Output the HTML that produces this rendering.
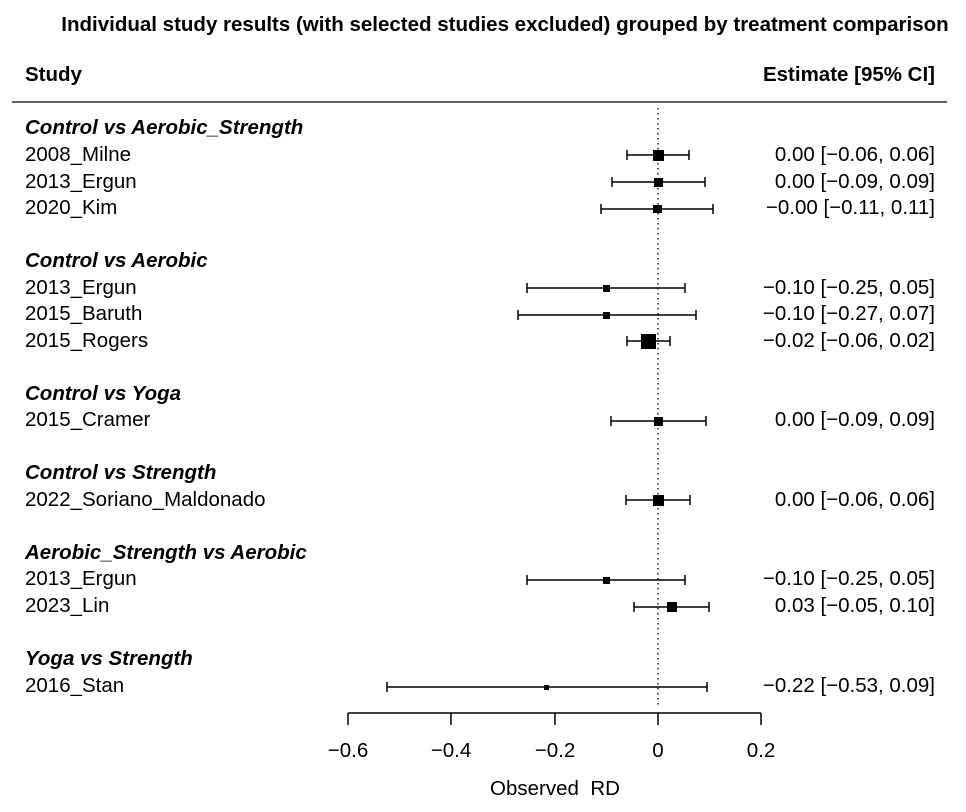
<!DOCTYPE html><html><head><style>body{margin:0;background:#fff}svg{display:block}text{font-family:"Liberation Sans",Arial,sans-serif;font-size:20.5px;fill:#000}</style></head><body>
<svg width="966" height="812" xmlns="http://www.w3.org/2000/svg">
<text x="505" y="31" text-anchor="middle" font-weight="bold">Individual study results (with selected studies excluded) grouped by treatment comparison</text>
<text x="25" y="81" font-weight="bold">Study</text>
<text x="935" y="81" text-anchor="end" font-weight="bold">Estimate [95% CI]</text>
<line x1="12" y1="102" x2="947" y2="102" stroke="#000" stroke-width="1.3"/>
<line x1="658" y1="108" x2="658" y2="708" stroke="#000" stroke-width="1.3" stroke-dasharray="1.5,3.5"/>
<g>
<text x="25" y="134" font-weight="bold" font-style="italic">Control vs Aerobic_Strength</text>
<text x="25" y="267" font-weight="bold" font-style="italic">Control vs Aerobic</text>
<text x="25" y="400" font-weight="bold" font-style="italic">Control vs Yoga</text>
<text x="25" y="479" font-weight="bold" font-style="italic">Control vs Strength</text>
<text x="25" y="559" font-weight="bold" font-style="italic">Aerobic_Strength vs Aerobic</text>
<text x="25" y="665" font-weight="bold" font-style="italic">Yoga vs Strength</text>
</g>
<g stroke="#000" stroke-width="1.5" fill="#000">
<line x1="627" y1="155" x2="689" y2="155"/><line x1="627" y1="150" x2="627" y2="160"/><line x1="689" y1="150" x2="689" y2="160"/><rect x="653" y="150" width="11" height="11" stroke="none"/>
<line x1="612" y1="182" x2="705" y2="182"/><line x1="612" y1="177" x2="612" y2="187"/><line x1="705" y1="177" x2="705" y2="187"/><rect x="654" y="178" width="9" height="9" stroke="none"/>
<line x1="601" y1="209" x2="713" y2="209"/><line x1="601" y1="204" x2="601" y2="214"/><line x1="713" y1="204" x2="713" y2="214"/><rect x="653" y="205" width="9" height="8" stroke="none"/>
<line x1="527" y1="288" x2="685" y2="288"/><line x1="527" y1="283" x2="527" y2="293"/><line x1="685" y1="283" x2="685" y2="293"/><rect x="603" y="285" width="7" height="7" stroke="none"/>
<line x1="518" y1="315" x2="696" y2="315"/><line x1="518" y1="310" x2="518" y2="320"/><line x1="696" y1="310" x2="696" y2="320"/><rect x="603" y="312" width="7" height="7" stroke="none"/>
<line x1="627" y1="341" x2="670" y2="341"/><line x1="627" y1="336" x2="627" y2="346"/><line x1="670" y1="336" x2="670" y2="346"/><rect x="641" y="334" width="15" height="15" stroke="none"/>
<line x1="611" y1="421" x2="706" y2="421"/><line x1="611" y1="416" x2="611" y2="426"/><line x1="706" y1="416" x2="706" y2="426"/><rect x="654" y="417" width="9" height="9" stroke="none"/>
<line x1="626" y1="500" x2="690" y2="500"/><line x1="626" y1="495" x2="626" y2="505"/><line x1="690" y1="495" x2="690" y2="505"/><rect x="653" y="495" width="11" height="11" stroke="none"/>
<line x1="527" y1="580" x2="685" y2="580"/><line x1="527" y1="575" x2="527" y2="585"/><line x1="685" y1="575" x2="685" y2="585"/><rect x="603" y="577" width="7" height="7" stroke="none"/>
<line x1="634" y1="607" x2="709" y2="607"/><line x1="634" y1="602" x2="634" y2="612"/><line x1="709" y1="602" x2="709" y2="612"/><rect x="667" y="602" width="10" height="10" stroke="none"/>
<line x1="387" y1="687" x2="707" y2="687"/><line x1="387" y1="682" x2="387" y2="692"/><line x1="707" y1="682" x2="707" y2="692"/><rect x="544" y="685" width="5" height="5" stroke="none"/>
<line x1="348" y1="713" x2="761" y2="713"/>
<line x1="348" y1="713" x2="348" y2="725"/><line x1="451" y1="713" x2="451" y2="725"/><line x1="555" y1="713" x2="555" y2="725"/><line x1="658" y1="713" x2="658" y2="725"/><line x1="761" y1="713" x2="761" y2="725"/>
</g>
<g>
<text x="25" y="161">2008_Milne</text><text x="935" y="161" text-anchor="end">0.00 [−0.06, 0.06]</text>
<text x="25" y="188">2013_Ergun</text><text x="935" y="188" text-anchor="end">0.00 [−0.09, 0.09]</text>
<text x="25" y="214">2020_Kim</text><text x="935" y="214" text-anchor="end">−0.00 [−0.11, 0.11]</text>
<text x="25" y="294">2013_Ergun</text><text x="935" y="294" text-anchor="end">−0.10 [−0.25, 0.05]</text>
<text x="25" y="320">2015_Baruth</text><text x="935" y="320" text-anchor="end">−0.10 [−0.27, 0.07]</text>
<text x="25" y="347">2015_Rogers</text><text x="935" y="347" text-anchor="end">−0.02 [−0.06, 0.02]</text>
<text x="25" y="426">2015_Cramer</text><text x="935" y="426" text-anchor="end">0.00 [−0.09, 0.09]</text>
<text x="25" y="506">2022_Soriano_Maldonado</text><text x="935" y="506" text-anchor="end">0.00 [−0.06, 0.06]</text>
<text x="25" y="585">2013_Ergun</text><text x="935" y="585" text-anchor="end">−0.10 [−0.25, 0.05]</text>
<text x="25" y="612">2023_Lin</text><text x="935" y="612" text-anchor="end">0.03 [−0.05, 0.10]</text>
<text x="25" y="692">2016_Stan</text><text x="935" y="692" text-anchor="end">−0.22 [−0.53, 0.09]</text>
</g>
<g text-anchor="middle">
<text x="348" y="757">−0.6</text><text x="451" y="757">−0.4</text><text x="555" y="757">−0.2</text><text x="658" y="757">0</text><text x="761" y="757">0.2</text>
<text x="555" y="795" style="white-space:pre">Observed  RD</text>
</g>
</svg></body></html>
